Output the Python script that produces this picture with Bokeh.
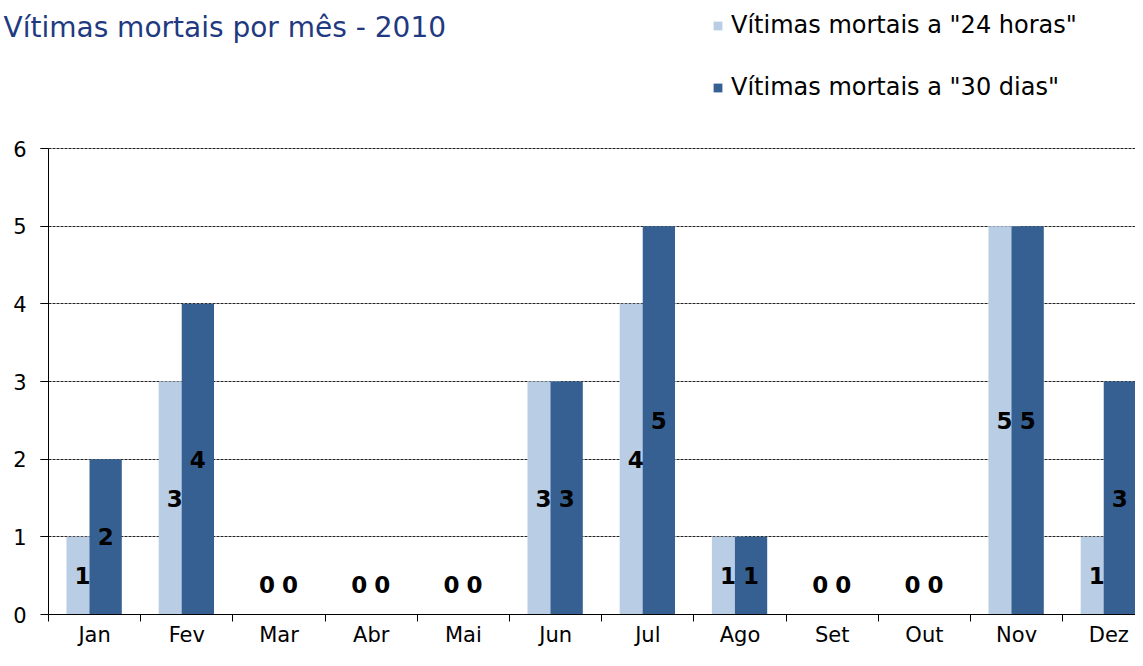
from bokeh.plotting import figure
from bokeh.models import ColumnDataSource, FixedTicker, Legend, LegendItem, Label, Range1d
from bokeh.core.properties import value
from bokeh.embed import file_html
from bokeh.resources import INLINE

months = ["Jan", "Fev", "Mar", "Abr", "Mai", "Jun", "Jul", "Ago", "Set", "Out", "Nov", "Dez"]
vit_24h = [1, 3, 0, 0, 0, 3, 4, 1, 0, 0, 5, 1]
vit_30d = [2, 4, 0, 0, 0, 3, 5, 1, 0, 0, 5, 3]
y_ticks = [0, 1, 2, 3, 4, 5, 6]

title_text = "Vítimas mortais por mês - 2010"
legend_24h = 'Vítimas mortais a "24 horas"'
legend_30d = 'Vítimas mortais a "30 dias"'

LIGHT = "#B9CDE5"
DARK = "#376092"
FONT = "DejaVu Sans"

# layout (pixels)
W, H = 1135, 650
X0_PX = 48.0      # pixel of x = 0 (y axis)
CAT_PX = 92.2     # pixels per month
Y0_PX = 614.0     # pixel of y = 0
Y6_PX = 148.0     # pixel of y = 6

n = len(months)
centers = [i + 0.5 for i in range(n)]
off_l, off_d, bw = -0.13, 0.12, 0.35


def label_y(v):
    return v / 2 if v > 0 else 0.38


src = ColumnDataSource(dict(
    xl=[c + off_l for c in centers],
    xd=[c + off_d for c in centers],
    v24=vit_24h,
    v30=vit_30d,
    t24=[str(v) for v in vit_24h],
    t30=[str(v) for v in vit_30d],
    y24=[label_y(v) for v in vit_24h],
    y30=[label_y(v) for v in vit_30d],
))

p = figure(width=W, height=H, output_backend="svg", toolbar_location=None,
           min_border_top=0, min_border_bottom=0, min_border_right=0)

frame_left = 0
try:
    p.ygrid.cross_bounds = (-8.0 / CAT_PX, 13)
except Exception:
    frame_left = 40
p.min_border_left = frame_left

unit = (Y0_PX - Y6_PX) / 6.0
p.x_range = Range1d(-(X0_PX - frame_left) / CAT_PX, (W - X0_PX) / CAT_PX)
p.y_range = Range1d(-(H - Y0_PX) / unit, 6 + Y6_PX / unit)

p.outline_line_color = None
p.background_fill_color = "white"
p.border_fill_color = "white"

r1 = p.vbar(x="xl", top="v24", width=bw, bottom=0, source=src,
            fill_color=LIGHT, line_color=None)
r2 = p.vbar(x="xd", top="v30", width=bw, bottom=0, source=src,
            fill_color=DARK, line_color=None)

for xcol, ycol, tcol in (("xl", "y24", "t24"), ("xd", "y30", "t30")):
    p.text(x=xcol, y=ycol, text=tcol, source=src,
           text_font=value(FONT), text_font_size="23px", text_font_style="bold",
           text_color="black", text_align="center", text_baseline="middle")

# x axis
xa = p.xaxis[0]
xa.fixed_location = 0
xa.bounds = (0, n)
xa.ticker = FixedTicker(ticks=centers, minor_ticks=list(range(n + 1)))
xa.major_label_overrides = {c: m for c, m in zip(centers, months)}
xa.major_tick_out = 0
xa.major_tick_in = 0
xa.minor_tick_out = 7
xa.minor_tick_in = 0
xa.minor_tick_line_color = "black"
xa.axis_line_color = "black"
xa.major_label_standoff = 1
xa.major_label_text_font = FONT
xa.major_label_text_font_size = "21px"
xa.major_label_text_color = "black"

# y axis
ya = p.yaxis[0]
ya.fixed_location = 0
ya.bounds = (0, 6)
ya.ticker = FixedTicker(ticks=y_ticks, minor_ticks=[])
ya.major_tick_out = 8
ya.major_tick_in = 0
ya.major_tick_line_color = "black"
ya.minor_tick_line_color = None
ya.axis_line_color = "black"
ya.major_label_standoff = 14
ya.major_label_text_font = FONT
ya.major_label_text_font_size = "21px"
ya.major_label_text_color = "black"

p.xgrid.grid_line_color = None
p.ygrid.ticker = FixedTicker(ticks=y_ticks[1:])
p.ygrid.grid_line_color = "#222222"
p.ygrid.grid_line_dash = "3 1"
p.ygrid.grid_line_width = 1

legend = Legend(items=[LegendItem(label=legend_24h, renderers=[r1]),
                       LegendItem(label=legend_30d, renderers=[r2])],
                location=(712 - frame_left, H - 101), orientation="vertical",
                glyph_width=11, glyph_height=11, label_standoff=8,
                spacing=34, padding=0, margin=0,
                border_line_color=None, background_fill_alpha=0,
                label_text_font=FONT, label_text_font_size="24px",
                label_text_color="black")
p.add_layout(legend, "center")

title = Label(x=max(3 - frame_left, 0), y=H - 27, x_units="screen", y_units="screen",
              text=title_text, text_font=FONT,
              text_font_size="28px", text_color="#1F3A80",
              text_baseline="alphabetic", text_align="left")
p.add_layout(title)

open("out.html", "w").write(file_html(p, INLINE))
